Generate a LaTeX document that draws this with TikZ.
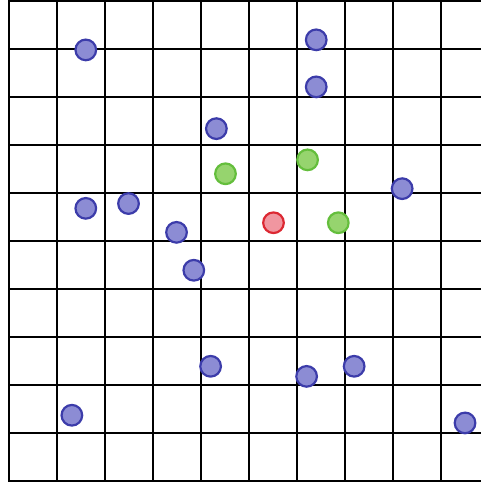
\documentclass[tikz,border=0pt]{standalone}
\usepackage{xcolor}
\usepackage{tikz}
\usetikzlibrary{calc, positioning}

\definecolor{ptblue}{RGB}{140,140,212}
\definecolor{ptblueline}{RGB}{60,60,170}
\definecolor{ptgreen}{RGB}{150,212,110}
\definecolor{ptgreenline}{RGB}{100,190,60}
\definecolor{ptred}{RGB}{240,150,160}
\definecolor{ptredline}{RGB}{220,40,50}

\begin{document}
\begin{tikzpicture}[
    pt/.style={circle, inner sep=0pt, minimum size=0.43cm, line width=1.3pt},
    bluept/.style={pt, draw=ptblueline, fill=ptblue},
    greenpt/.style={pt, draw=ptgreenline, fill=ptgreen},
    redpt/.style={pt, draw=ptredline, fill=ptred}]
    \useasboundingbox (-0.187,-0.062) rectangle (9.834,10.02);
    % 1. Lưới ô vuông
    \foreach \x in {0,...,9} {
        \draw[line width=1.4pt] (\x,-0.02) -- (\x,10.02);
    }
    \foreach \y in {0,...,10} {
        \draw[line width=1.4pt] (-0.02,\y) -- (9.834,\y);
    }
    % 2. Các điểm xanh dương
    \node[bluept] (b1) at (1.60,8.98) {};
    \node[bluept] (b2) at (6.40,9.19) {};
    \node[bluept] (b3) at (6.40,8.21) {};
    \node[bluept] (b4) at (4.32,7.34) {};
    \node[bluept] (b5) at (8.19,6.09) {};
    \node[bluept] (b6) at (1.60,5.68) {};
    \node[bluept] (b7) at (2.49,5.78) {};
    \node[bluept] (b8) at (3.49,5.18) {};
    \node[bluept] (b9) at (3.85,4.39) {};
    \node[bluept] (b10) at (4.20,2.39) {};
    \node[bluept] (b11) at (6.20,2.18) {};
    \node[bluept] (b12) at (7.19,2.39) {};
    \node[bluept] (b13) at (1.31,1.37) {};
    \node[bluept] (b14) at (9.50,1.21) {};
    % 3. Các điểm xanh lá
    \node[greenpt] (g1) at (4.51,6.40) {};
    \node[greenpt] (g2) at (6.22,6.69) {};
    \node[greenpt] (g3) at (6.86,5.38) {};
    % 4. Điểm đỏ
    \node[redpt] (r1) at (5.51,5.38) {};
\end{tikzpicture}
\end{document}
